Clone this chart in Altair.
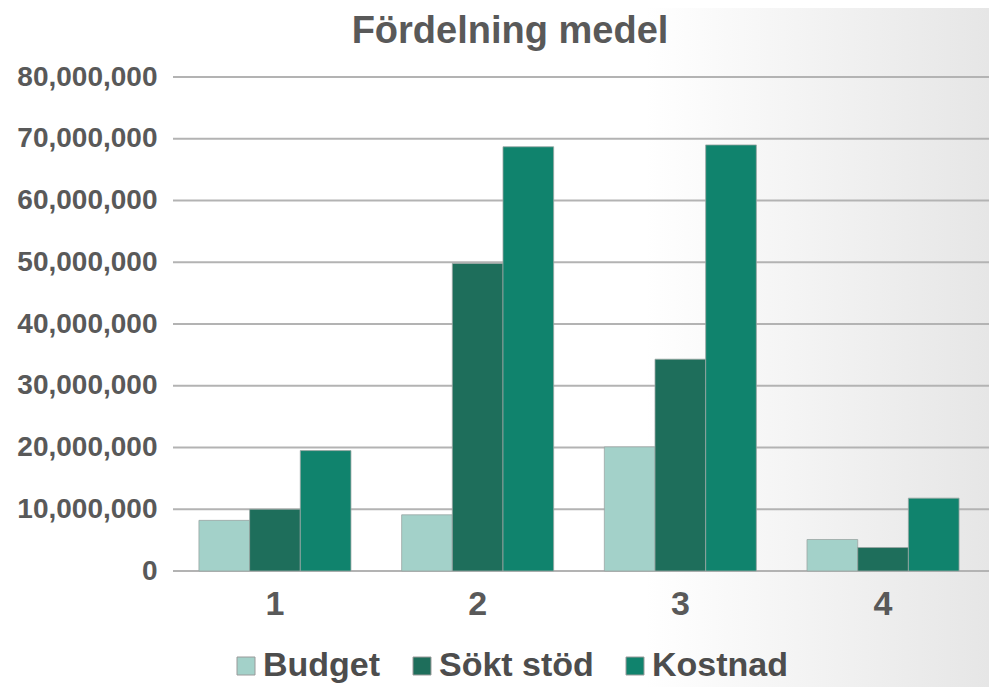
import altair as alt
import pandas as pd

title_text = ["Fördelning medel"]
groups = ["1", "2", "3", "4"]
series = ["Budget", "Sökt stöd", "Kostnad"]
budget = [8_200_000, 9_100_000, 20_100_000, 5_100_000]
sokt_stod = [10_000_000, 49_800_000, 34_300_000, 3_800_000]
kostnad = [19_500_000, 68_700_000, 69_000_000, 11_800_000]
colors = ["#a3d1c9", "#1e6e5b", "#10836d"]
y_ticks = [0, 10_000_000, 20_000_000, 30_000_000, 40_000_000,
           50_000_000, 60_000_000, 70_000_000, 80_000_000]

rows = []
for i, g in enumerate(groups):
    for s, vals in zip(series, [budget, sokt_stod, kostnad]):
        rows.append({"Grupp": g, "Serie": s, "Värde": vals[i]})
df = pd.DataFrame(rows)
grid_df = pd.DataFrame({"Värde": y_ticks})

W, H = 812, 494
PAD = {"left": 165, "top": 69, "right": 4, "bottom": 116}
FONT = "Liberation Sans"
TXT = "#595959"
YSCALE = alt.Scale(domain=[0, 80_000_000], nice=False)
YAXIS = alt.Axis(title=None, values=y_ticks, format=",d",
                 labelFontSize=28, labelFontWeight="bold",
                 labelColor=TXT, labelFont=FONT, labelPadding=16,
                 ticks=False, domain=False, grid=False, zindex=1)

bg = alt.Chart(pd.DataFrame({"d": [0]})).mark_rect(
    fill={
        "gradient": "linear", "x1": 0, "y1": 0, "x2": 1, "y2": 0,
        "stops": [
            {"offset": 0, "color": "#ffffff"},
            {"offset": 0.65, "color": "#ffffff"},
            {"offset": 1, "color": "#e6e6e6"},
        ],
    }
).encode(
    x=alt.value(-PAD["left"]), x2=alt.value(W + PAD["right"]),
    y=alt.value(-PAD["top"]), y2=alt.value(H + PAD["bottom"]),
)

grid = alt.Chart(grid_df).mark_rule(color="#b3b3b3", strokeWidth=2).encode(
    y=alt.Y("Värde:Q", scale=YSCALE, axis=YAXIS),
    x=alt.value(0), x2=alt.value(W + PAD["right"]),
)

bars = alt.Chart(df).mark_bar(stroke="#9aa6a3", strokeWidth=0.8).encode(
    x=alt.X("Grupp:N", sort=groups,
            scale=alt.Scale(paddingInner=0.25, paddingOuter=0.128),
            axis=alt.Axis(title=None, labelAngle=0, labelFontSize=34,
                          labelFontWeight="bold", labelColor=TXT,
                          labelFont=FONT, labelPadding=16,
                          ticks=False, domain=False, grid=False, zindex=1)),
    xOffset=alt.XOffset("Serie:N", sort=series, scale=alt.Scale(paddingInner=0, paddingOuter=0)),
    y=alt.Y("Värde:Q", scale=YSCALE, axis=YAXIS),
    color=alt.Color("Serie:N", sort=series,
                    scale=alt.Scale(domain=series, range=colors),
                    legend=alt.Legend(title=None, orient="none",
                                      direction="horizontal",
                                      legendX=56, legendY=572,
                                      symbolType="square", symbolSize=324,
                                      symbolStrokeColor="#9a9a9a",
                                      symbolStrokeWidth=1,
                                      labelFontSize=34, labelFontWeight="bold",
                                      labelColor="#4d4d4d", labelFont=FONT,
                                      labelOffset=0, columnPadding=24,
                                      labelLimit=400)),
)

title = alt.Chart(pd.DataFrame({"t": title_text})).mark_text(
    font=FONT, fontSize=38, fontWeight="bold", color=TXT,
    align="center", baseline="alphabetic",
).encode(text="t:N", x=alt.value(337), y=alt.value(-34))

chart = alt.layer(bg, grid, bars, title).properties(
    width=W, height=H,
    padding=PAD,
    autosize=alt.AutoSizeParams(type="none"),
).configure_view(strokeWidth=0)

chart.save("out.html", embed_options={"renderer": "svg", "actions": False})
